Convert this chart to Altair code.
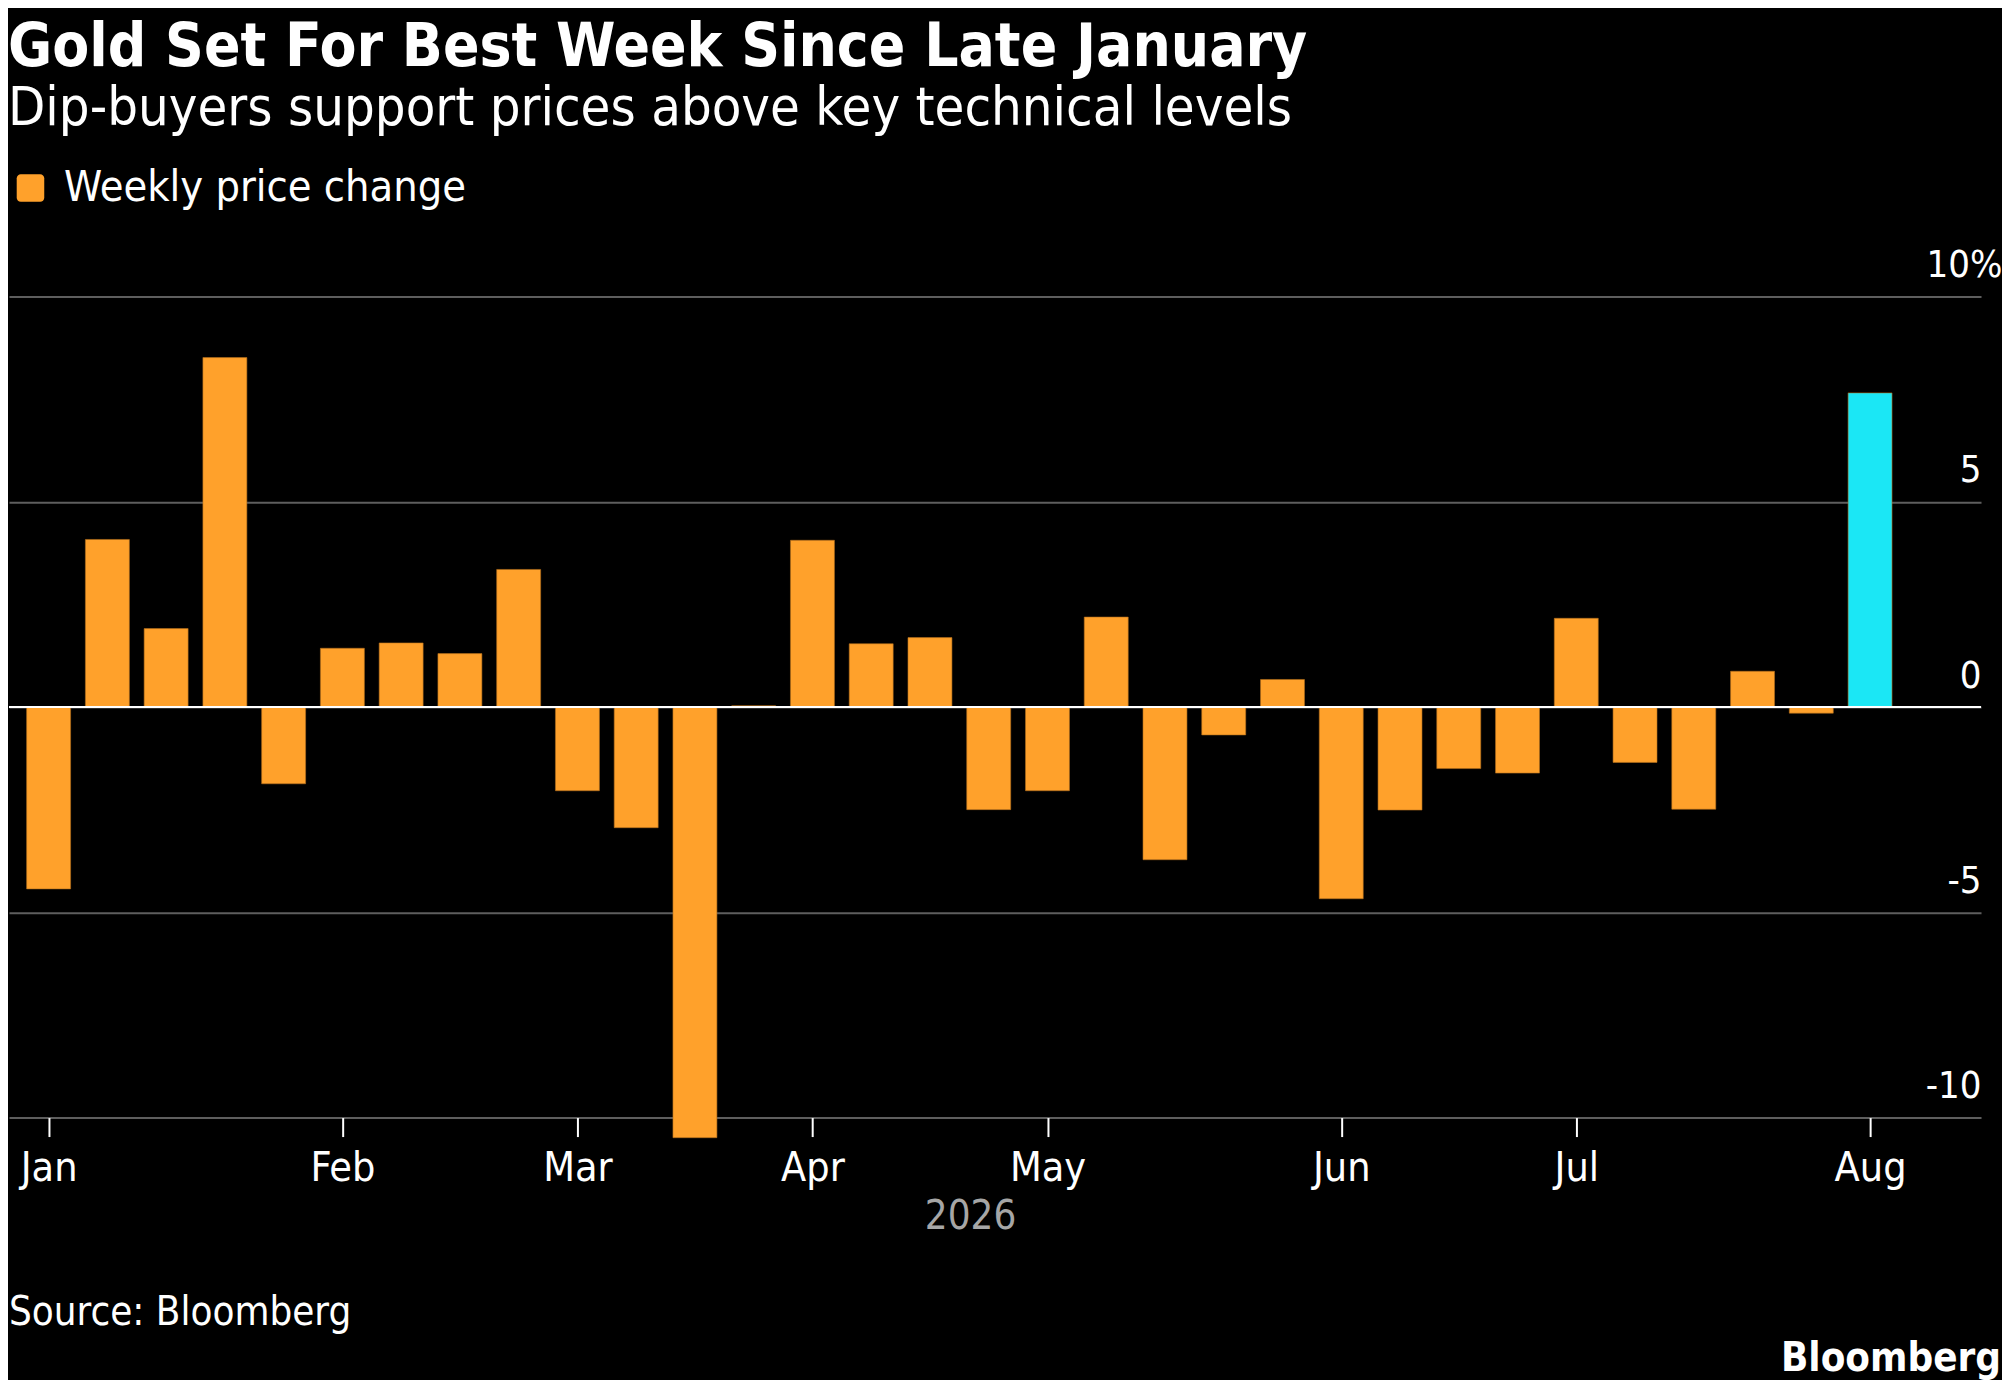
import altair as alt
import pandas as pd

# weekly bars (Friday closes), % change
weeks = [
    "2026-01-02", "2026-01-09", "2026-01-16", "2026-01-23", "2026-01-30",
    "2026-02-06", "2026-02-13", "2026-02-20", "2026-02-27",
    "2026-03-06", "2026-03-13", "2026-03-20", "2026-03-27",
    "2026-04-03", "2026-04-10", "2026-04-17", "2026-04-24",
    "2026-05-01", "2026-05-08", "2026-05-15", "2026-05-22", "2026-05-29",
    "2026-06-05", "2026-06-12", "2026-06-19", "2026-06-26",
    "2026-07-03", "2026-07-10", "2026-07-17", "2026-07-24", "2026-07-31",
    "2026-08-07",
]
change = [
    -4.43, 4.08, 1.91, 8.51, -1.87,
    1.43, 1.56, 1.30, 3.35,
    -2.04, -2.94, -10.49, 0.03,
    4.06, 1.54, 1.69, -2.50,
    -2.04, 2.19, -3.72, -0.68, 0.67,
    -4.67, -2.51, -1.50, -1.61,
    2.16, -1.35, -2.49, 0.87, -0.15,
    7.65,
]
series_name = "Weekly price change"
y_ticks = [-10, -5, 0, 5, 10]

FONT = "DejaVu Sans Condensed, Liberation Sans Narrow, DejaVu Sans"
ORANGE = "#FFA12B"
CYAN = "#1BE7F5"
W, H = 1974, 822

df = pd.DataFrame({"week": weeks, "change": change})
df["series"] = series_name
df["latest"] = df["week"] == weeks[-1]
df["month"] = df["week"].str[:7]

# month ticks sit on the first weekly bar of each month
first_weeks = df.groupby("month")["week"].min().tolist()
tick_vals = [alt.DateTime(year=int(d[:4]), month=int(d[5:7]), date=int(d[8:]), utc=True)
             for d in first_weeks]

x = alt.X(
    "week:T",
    scale=alt.Scale(
        type="utc",
        domain=[alt.DateTime(year=2025, month=12, date=28, hours=21, utc=True),
                alt.DateTime(year=2026, month=8, date=19, hours=15, utc=True)],
    ),
    axis=alt.Axis(
        values=tick_vals, labelExpr="utcFormat(datum.value, '%b')",
        grid=False, domain=False, ticks=True, tickColor="white", tickWidth=2, tickSize=19,
        labelColor="white", labelFontSize=41, labelFont=FONT, labelPadding=12,
        title="2026", titleColor="#a6a6a6", titleFontSize=40, titleFont=FONT,
        titleFontWeight="normal", titleX=962, titlePadding=8,
    ),
)
y = alt.Y(
    "change:Q",
    scale=alt.Scale(domain=[-10, 10], nice=False),
    axis=alt.Axis(
        orient="right", values=y_ticks,
        labelExpr=("datum.value == 10 ? '10%' : "
                   "(datum.value < 0 ? '-' + abs(datum.value) : '' + datum.value)"),
        grid=True, gridColor="#5e5e5e", gridWidth=2, domain=False, ticks=False,
        labelColor="white", labelFontSize=38, labelFont=FONT,
        labelAlign="right", labelBaseline="bottom", labelOffset=-12,
        # the % sign hangs past the end of the gridlines
        labelPadding={"condition": {"test": "datum.value == 10", "value": 21}, "value": 0},
        title=None,
    ),
)

rounded_square = ("M-0.7,-1H0.7A0.3,0.3 0 0 1 1,-0.7V0.7A0.3,0.3 0 0 1 0.7,1"
                  "H-0.7A0.3,0.3 0 0 1 -1,0.7V-0.7A0.3,0.3 0 0 1 -0.7,-1Z")

bars = alt.Chart(df).mark_bar(width=44, stroke="#b36f1c", strokeWidth=0.6).encode(
    x=x,
    y=y,
    color=alt.condition(
        "datum.latest",
        alt.value(CYAN),
        alt.Color(
            "series:N",
            scale=alt.Scale(domain=[series_name], range=[ORANGE]),
            legend=alt.Legend(
                title=None, orient="none", legendX=0, legendY=-130,
                symbolType=rounded_square, symbolSize=760, symbolStrokeWidth=0,
                labelColor="white", labelFontSize=43, labelFont=FONT, labelOffset=12,
                labelLimit=0,
            ),
        ),
    ),
)

zero = alt.Chart(pd.DataFrame({"y": [0]})).mark_rule(color="white", strokeWidth=2).encode(
    y=alt.Y("y:Q", scale=alt.Scale(domain=[-10, 10], nice=False))
)

source = alt.Chart(pd.DataFrame({"t": ["Source: Bloomberg"]})).mark_text(
    align="left", baseline="alphabetic", color="white", fontSize=40, font=FONT
).encode(x=alt.value(0), y=alt.value(H + 208), text="t:N")

brand = alt.Chart(pd.DataFrame({"t": ["Bloomberg"]})).mark_text(
    align="right", baseline="alphabetic", color="white", fontSize=40, font=FONT,
    fontWeight="bold"
).encode(x=alt.value(W + 20), y=alt.value(H + 254), text="t:N")

chart = alt.layer(bars, zero, source, brand).properties(
    width=W,
    height=H,
    padding={"top": 9, "left": 0, "right": 0, "bottom": 0},
    background="#000000",
    title=alt.TitleParams(
        text="Gold Set For Best Week Since Late January",
        subtitle="Dip-buyers support prices above key technical levels",
        anchor="start", color="white", font=FONT, fontSize=60, fontWeight="bold",
        subtitleColor="white", subtitleFont=FONT, subtitleFontSize=54,
        subtitlePadding=3, offset=30,
    ),
).configure_view(stroke=None)

chart.save("out.html", embed_options={"renderer": "svg", "actions": False})
